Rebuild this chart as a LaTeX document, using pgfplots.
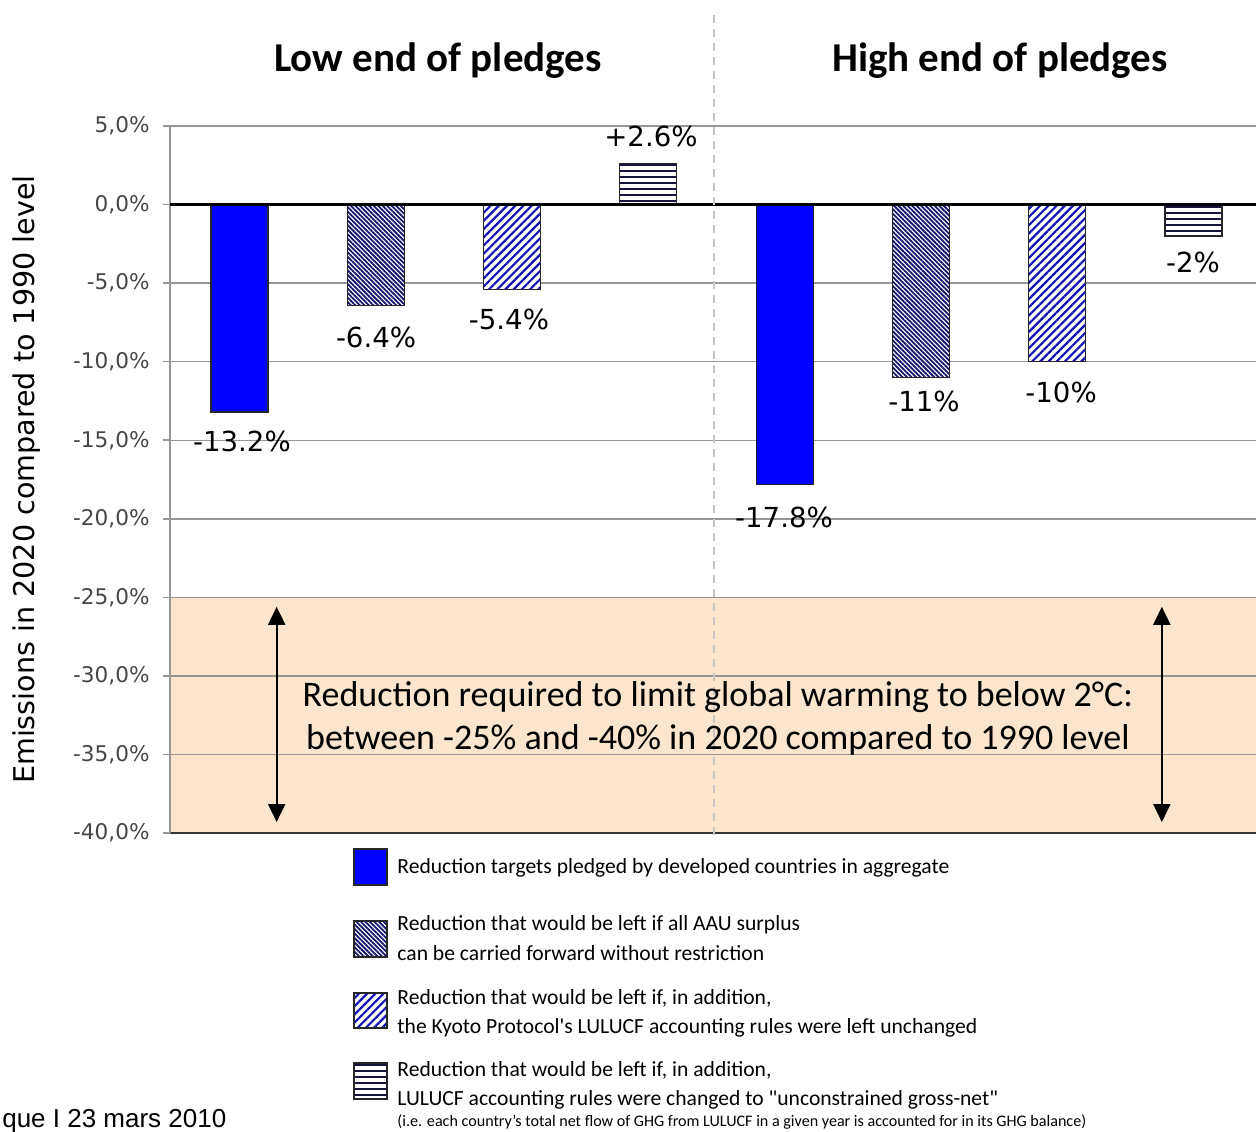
\documentclass[border=0pt]{standalone}
\usepackage{fontspec}
\setmainfont{Carlito}[Ligatures=TeXOff]
\newfontfamily\dejavu{DejaVu Sans}
\newfontfamily\arialf{Liberation Sans}
\usepackage{pgfplots}
\pgfplotsset{compat=1.18}
\usetikzlibrary{patterns.meta,arrows.meta}
\definecolor{peach}{RGB}{252,229,205}
\definecolor{pblue}{RGB}{0,0,255}
\definecolor{navyA}{RGB}{20,20,110}
\definecolor{blueB}{RGB}{20,20,180}
\definecolor{navyC}{RGB}{20,20,60}
\definecolor{gridg}{RGB}{150,150,150}
\definecolor{tickg}{RGB}{70,70,70}
\pgfplotsset{
 sA/.style={fill=pblue, draw=black!85, line width=0.6pt},
 sB/.style={fill=white, draw=black!85, line width=0.6pt,
   postaction={pattern color=navyA, pattern={Lines[angle=-45,distance=1.6pt,line width=0.9pt]}}},
 sC/.style={fill=white, draw=black!85, line width=0.6pt,
   postaction={pattern color=blueB, pattern={Lines[angle=45,distance=2.9pt,line width=1.1pt]}}},
 sD/.style={fill=white, draw=black!85, line width=0.6pt,
   postaction={pattern color=navyC, pattern={Lines[angle=0,distance=3pt,line width=0.9pt]}}},
 barstyle/.style={ybar, bar width=28.5pt, bar shift=0pt},
}
\begin{document}
\begin{tikzpicture}
\begin{axis}[
 set layers,
 scale only axis, width=543pt, height=353.5pt,
 xmin=-0.51, xmax=7.458, ymin=-40, ymax=5,
 clip=false,
 axis x line*=bottom, axis y line*=left,
 x axis line style={draw=black!80, line width=1pt, -},
 y axis line style={draw=gridg, line width=0.8pt, -},
 xtick=\empty,
 ytick={-40,-35,...,5},
 tick align=outside, major tick length=3.5pt,
 ytick style={draw=gridg, line width=0.8pt},
 ymajorgrids, grid style={draw=gridg, line width=0.7pt},
 /pgf/number format/assume math mode=true,
 yticklabel={\pgfmathprintnumber[fixed,fixed zerofill,precision=1,use comma]{\tick}\%},
 yticklabel style={font=\dejavu\fontsize{10.8}{12}\selectfont, text=tickg, inner sep=0pt, xshift=-6.5pt},
 ylabel={Emissions in 2020 compared to 1990 level},
 ylabel style={font=\dejavu\fontsize{14.3}{17}\selectfont, at={(rel axis cs:-0.1317,0.5)}, anchor=center},
]
% orange band
\addplot[on layer=axis background, fill=peach, draw=none, forget plot]
  coordinates {(-0.51,-25) (7.458,-25) (7.458,-40) (-0.51,-40)} -- cycle;

% bars
\addplot[barstyle, sA] coordinates {(0,-13.2) (4,-17.8)};
\addplot[barstyle, sB] coordinates {(1,-6.4) (5,-11)};
\addplot[barstyle, sC] coordinates {(2,-5.4) (6,-10)};
\addplot[barstyle, sD] coordinates {(3,2.6) (7,-2)};

% zero line
\addplot[black, line width=1.5pt, forget plot] coordinates {(-0.51,0) (7.458,0)};

% legend swatches
\addplot[sA, forget plot] coordinates {(0.8401,-41.02) (1.0822,-41.02) (1.0822,-43.31) (0.8401,-43.31)} -- cycle;
\addplot[sB, forget plot] coordinates {(0.8401,-45.60) (1.0822,-45.60) (1.0822,-47.89) (0.8401,-47.89)} -- cycle;
\addplot[sC, forget plot] coordinates {(0.8401,-50.18) (1.0822,-50.18) (1.0822,-52.41) (0.8401,-52.41)} -- cycle;
\addplot[sD, forget plot] coordinates {(0.8401,-54.64) (1.0822,-54.64) (1.0822,-56.93) (0.8401,-56.93)} -- cycle;

% legend text
\begin{scope}[every node/.style={anchor=west, inner sep=0pt, text height=0.75em, text depth=0.25em, font=\fontsize{10.8}{13}\selectfont}]
\node at (axis cs:1.156,-42.28) {Reduction targets pledged by developed countries in aggregate};
\node at (axis cs:1.156,-45.91) {Reduction that would be left if all AAU surplus};
\node at (axis cs:1.156,-47.82) {can be carried forward without restriction};
\node at (axis cs:1.156,-50.62) {Reduction that would be left if, in addition,};
\node at (axis cs:1.156,-52.47) {the Kyoto Protocol's LULUCF accounting rules were left unchanged};
\node at (axis cs:1.156,-55.18) {Reduction that would be left if, in addition,};
\node at (axis cs:1.156,-57.03) {LULUCF accounting rules were changed to "unconstrained gross-net"};
\end{scope}

% divider
\draw[gray!45, line width=0.8pt, dash pattern=on 4pt off 3pt] (axis cs:3.482,12.07) -- (axis cs:3.482,-40.45);

% arrows
\draw[line width=1pt, {Triangle[width=8.5pt,length=9pt]}-{Triangle[width=8.5pt,length=9pt]}] (axis cs:0.273,-25.6) -- (axis cs:0.273,-39.3);
\draw[line width=1pt, {Triangle[width=8.5pt,length=9pt]}-{Triangle[width=8.5pt,length=9pt]}] (axis cs:6.767,-25.6) -- (axis cs:6.767,-39.3);

% band text
\node[align=center, font=\fontsize{18}{21.5}\selectfont] at (axis cs:3.51,-32.68)
  {Reduction required to limit global warming to below 2°C:\\between -25\% and -40\% in 2020 compared to 1990 level};

% titles
\node[font=\bfseries\fontsize{20.5}{24}\selectfont, anchor=base] at (axis cs:1.456,8.50) {Low end of pledges};
\node[font=\bfseries\fontsize{20.5}{24}\selectfont, anchor=base] at (axis cs:5.58,8.50) {High end of pledges};

% bar labels
\begin{scope}[every node/.style={font=\dejavu\fontsize{13.8}{15}\selectfont}]
\node at (axis cs:3.019,4.36) {+2.6\%};
\node at (axis cs:1.002,-8.43) {-6.4\%};
\node at (axis cs:1.977,-7.29) {-5.4\%};
\node at (axis cs:0.018,-15.05) {-13.2\%};
\node at (axis cs:3.995,-19.89) {-17.8\%};
\node at (axis cs:5.022,-12.50) {-11\%};
\node at (axis cs:6.028,-11.99) {-10\%};
\node at (axis cs:6.996,-3.66) {-2\%};
\end{scope}

% note and footer
\node[anchor=west, inner sep=0pt, font=\fontsize{8.05}{9}\selectfont] at (axis cs:1.156,-58.4)
  {(i.e. each country’s total net flow of GHG from LULUCF in a given year is accounted for in its GHG balance)};
\node[anchor=base west, inner sep=0pt, font=\arialf\fontsize{13}{15}\selectfont] at (axis cs:-1.743,-58.72) {que I 23 mars 2010};

\coordinate (bbsw) at (axis cs:-1.757,-58.97);
\coordinate (bbne) at (axis cs:7.458,13.02);
\end{axis}
\pgfresetboundingbox
\path (bbsw) rectangle (bbne);
\end{tikzpicture}
\end{document}
